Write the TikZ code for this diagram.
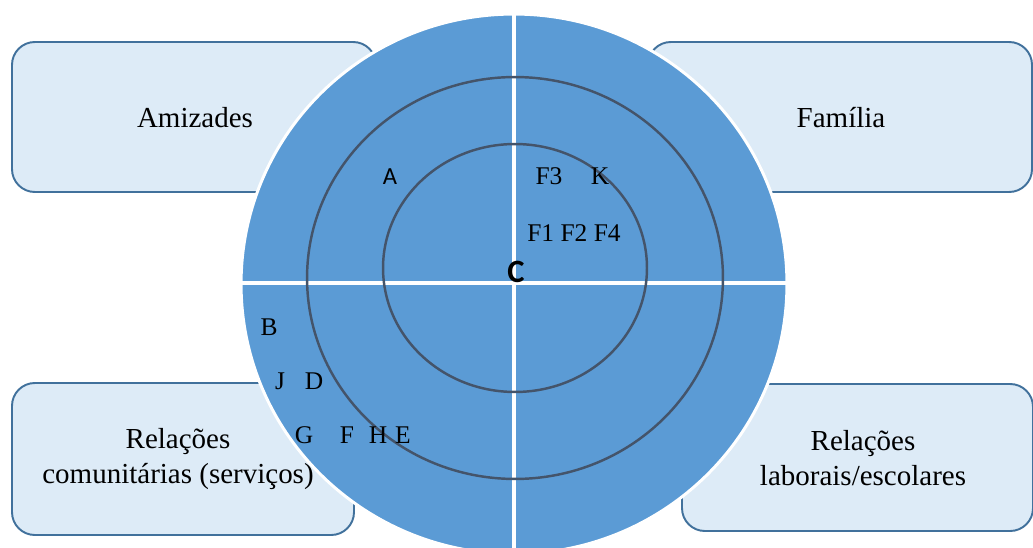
\documentclass[tikz,border=0pt]{standalone}
\usepackage{fontspec}
\setmainfont{Liberation Serif}
\newfontfamily\carl{Carlito}
\definecolor{boxfill}{RGB}{221,235,247}
\definecolor{boxline}{RGB}{65,113,156}
\definecolor{ringfill}{RGB}{91,155,213}
\definecolor{ringline}{RGB}{68,84,106}
\begin{document}
\begin{tikzpicture}[x=0.02cm,y=-0.02cm,
  sector/.style={draw=boxline,line width=1.1pt,fill=boxfill,rounded corners=13pt},
  boxtext/.style={font=\fontsize{16.5}{19.8}\selectfont,align=center,inner sep=0pt},
  letter/.style={font=\fontsize{14.5}{16}\selectfont,inner sep=0pt,anchor=center},
  sletter/.style={font=\carl\fontsize{14}{16}\selectfont,inner sep=0pt,anchor=center},
  ring/.style={draw=ringline,line width=1.4pt},
  cross/.style={draw=white,line width=2.3pt}]
\useasboundingbox (0,0) rectangle (1033,547);
\clip (0,0) rectangle (1033,547);
% boxes
\draw[sector] (12,42) rectangle (376,192);
\draw[sector] (648,42) rectangle (1032,192);
\draw[sector] (12,383) rectangle (354,535);
\draw[sector] (682,384) rectangle (1033,531);
\node[boxtext] (amiz) at (195,118) {Amizades};
\node[boxtext] (fam) at (841,118) {Família};
\node[boxtext] (com) at (178,459) {Relações\\comunitárias (serviços)};
\node[boxtext] (lab) at (863,458) {Relações\\laborais/escolares};
% outer circle
\coordinate (ctr) at (514,284);
\fill[ringfill,draw=white,line width=1.7pt] (ctr) ellipse [x radius=5.46cm, y radius=5.40cm];
% cross
\coordinate (ctop) at (514,10);
\coordinate (cbot) at (514,560);
\coordinate (cleft) at (242,283);
\coordinate (cright) at (787,283);
\draw[cross] (ctop) -- (cbot);
\draw[cross] (cleft) -- (cright);
% rings
\coordinate (mctr) at (515,278);
\coordinate (ictr) at (515,268);
\draw[ring] (mctr) ellipse [x radius=4.16cm, y radius=4.02cm];
\draw[ring] (ictr) ellipse [x radius=2.64cm, y radius=2.48cm];
% letters
\node[sletter] (A) at (390,177) {A};
\node[letter] (F3) at (549,176) {F3};
\node[letter] (K) at (600,176) {K};
\node[letter] (F124) at (574,233) {F1 F2 F4};
\node[font=\carl\bfseries\fontsize{18.5}{20}\selectfont,inner sep=0pt] (C) at (516,272) {C};
\node[letter] (B) at (269,327) {B};
\node[letter] (J) at (280,381) {J};
\node[letter] (D) at (314,381) {D};
\node[letter] (G) at (304,435) {G};
\node[letter] (F) at (347,435) {F};
\node[letter] (H) at (378,435) {H};
\node[letter] (E) at (403,435) {E};
\end{tikzpicture}
\end{document}
